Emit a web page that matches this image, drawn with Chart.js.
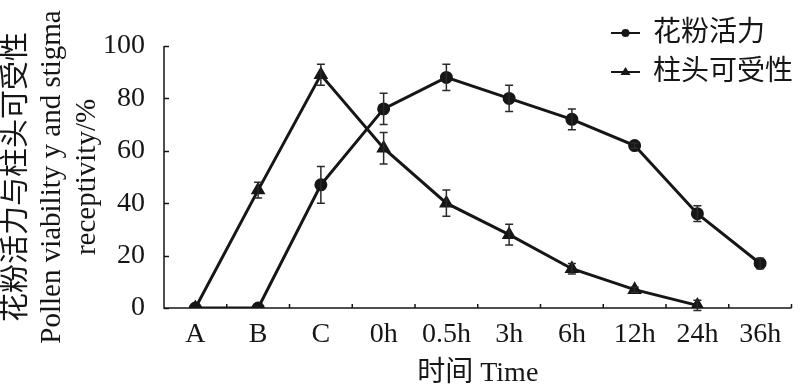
<!DOCTYPE html>
<html>
<head>
<meta charset="utf-8">
<script src="https://cdn.jsdelivr.net/npm/chart.js@4.4.1/dist/chart.umd.min.js"></script>
<style>
html,body{margin:0;padding:0;background:#fff;}
#wrap{width:800px;height:389px;position:relative;}
</style>
</head>
<body>
<div id="wrap"><canvas id="c" width="800" height="389"></canvas></div>
<script>
const categories = ['A','B','C','0h','0.5h','3h','6h','12h','24h','36h'];
const pollenValues = [0, 0, 47, 76, 88, 80, 72, 62, 36, 17];
const pollenErrors = [0, 0, 7, 6, 5, 5, 4, 1, 3, 2];
const stigmaValues = [0, 45, 89, 61, 40, 28, 15, 7, 1, null];
const stigmaErrors = [0, 3, 4, 6, 5, 4, 2, 1, 2, null];
const seriesNames = ['花粉活力', '柱头可受性'];
const yTicks = [0, 20, 40, 60, 80, 100];
const xTitle = '时间 Time';
const yTitle = ['花粉活力与柱头可受性', 'Pollen viability y and stigma', 'receptivity/%'];

const FONT = "'Liberation Serif', 'Times New Roman', 'Noto Sans CJK SC', serif";
const INK = '#161616';

const errorBars = {
  id: 'errorBars',
  afterDatasetsDraw(chart) {
    const ctx = chart.ctx;
    const y = chart.scales.y;
    ctx.save();
    ctx.strokeStyle = '#2a2a2a';
    ctx.lineWidth = 1.5;
    chart.data.datasets.forEach((ds, di) => {
      const meta = chart.getDatasetMeta(di);
      const errs = ds.errors;
      meta.data.forEach((pt, i) => {
        const v = ds.data[i], e = errs[i];
        if (v == null || !e) return;
        const x = pt.x;
        const yt = y.getPixelForValue(v + e), yb = y.getPixelForValue(v - e);
        ctx.beginPath();
        ctx.moveTo(x, yt); ctx.lineTo(x, yb);
        ctx.moveTo(x - 4, yt); ctx.lineTo(x + 4, yt);
        ctx.moveTo(x - 4, yb); ctx.lineTo(x + 4, yb);
        ctx.stroke();
      });
    });
    ctx.restore();
  }
};

const axesInk = {
  id: 'axesInk',
  afterDraw(chart) {
    const ctx = chart.ctx;
    const a = chart.chartArea;
    const xs = chart.scales.x, ys = chart.scales.y;
    const step = xs.getPixelForValue(1) - xs.getPixelForValue(0);
    ctx.save();
    ctx.strokeStyle = INK;
    ctx.lineWidth = 1.5;
    ctx.beginPath();
    ctx.moveTo(a.left, a.top); ctx.lineTo(a.left, a.bottom); ctx.lineTo(a.right, a.bottom);
    yTicks.forEach(v => {
      const py = Math.round(ys.getPixelForValue(v)) + 0.5;
      ctx.moveTo(a.left, py); ctx.lineTo(a.left + 5, py);
    });
    for (let i = 0; i < categories.length; i++) {
      const px = xs.getPixelForValue(i) + step / 2;
      ctx.moveTo(px, a.bottom); ctx.lineTo(px, a.bottom - 4);
    }
    ctx.stroke();
    ctx.restore();
  }
};

const legendBox = {
  id: 'legendBox',
  afterDraw(chart) {
    const ctx = chart.ctx;
    ctx.save();
    ctx.font = "28px " + FONT;
    ctx.textBaseline = 'middle';
    ctx.fillStyle = INK;
    const rows = [{y: 33, style: 'circle'}, {y: 72, style: 'triangle'}];
    rows.forEach((r, i) => {
      ctx.strokeStyle = INK; ctx.lineWidth = 2;
      ctx.beginPath(); ctx.moveTo(611, r.y); ctx.lineTo(640, r.y); ctx.stroke();
      ctx.beginPath();
      if (r.style === 'circle') { ctx.arc(625.5, r.y, 4, 0, Math.PI * 2); }
      else { ctx.moveTo(625.5, r.y - 5); ctx.lineTo(630.5, r.y + 3); ctx.lineTo(620.5, r.y + 3); ctx.closePath(); }
      ctx.fill();
      ctx.fillText(seriesNames[i], 653, r.y + 1);
    });
    ctx.restore();
  }
};

new Chart(document.getElementById('c'), {
  type: 'line',
  data: {
    labels: categories,
    datasets: [
      { label: seriesNames[0], data: pollenValues, errors: pollenErrors, borderColor: INK, backgroundColor: INK,
        borderWidth: 3, pointStyle: 'circle', pointRadius: 5, pointBackgroundColor: INK, pointBorderColor: INK, tension: 0 },
      { label: seriesNames[1], data: stigmaValues, errors: stigmaErrors, borderColor: INK, backgroundColor: INK,
        borderWidth: 3, pointStyle: 'triangle', pointRadius: 5.5, pointBackgroundColor: INK, pointBorderColor: INK, tension: 0 }
    ]
  },
  options: {
    responsive: false,
    animation: false,
    devicePixelRatio: 1,
    layout: { padding: { top: 46, right: 0, left: 0, bottom: 0 } },
    plugins: { legend: { display: false }, tooltip: { enabled: false } },
    scales: {
      x: {
        offset: true,
        grid: { display: false, drawTicks: false },
        border: { display: false },
        ticks: { color: INK, font: { family: FONT, size: 28 }, padding: 10, maxRotation: 0, autoSkip: false },
        title: { display: true, text: xTitle, color: INK, font: { family: FONT, size: 28, lineHeight: 1.0 }, padding: { top: 0, bottom: 1 } },
        afterFit(s) { s.height = 81; }
      },
      y: {
        min: 0, max: 100,
        afterBuildTicks(s) { s.ticks = yTicks.map(v => ({ value: v })); },
        grid: { display: false, drawTicks: false },
        border: { display: false },
        ticks: { color: INK, font: { family: FONT, size: 28 }, padding: 19 },
        title: { display: true, text: yTitle, color: INK, font: { family: FONT, size: 29, lineHeight: 1.2 }, padding: 0 },
        afterFit(s) { s.width = 164; }
      }
    }
  },
  plugins: [errorBars, axesInk, legendBox]
});
</script>
</body>
</html>
